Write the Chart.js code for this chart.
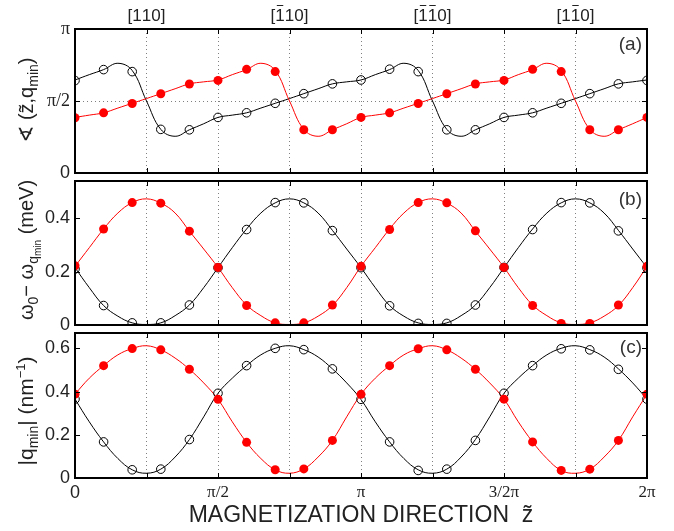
<!DOCTYPE html>
<html>
<head>
<meta charset="utf-8">
<script src="https://cdn.jsdelivr.net/npm/chart.js"></script>
<style>
body { margin: 0; background: #fff; }
#wrap { position: relative; width: 674px; height: 531px; }
canvas { position: absolute; left: 0; top: 0; }
</style>
</head>
<body>
<div id="wrap">
  <canvas id="pa" width="674" height="531"></canvas>
  <canvas id="pb" width="674" height="531"></canvas>
  <canvas id="pc" width="674" height="531"></canvas>
</div>
<script>
// magnetization direction, in units of pi
const dirs = [0, 0.1, 0.2, 0.3, 0.4, 0.5, 0.6, 0.7, 0.8, 0.9, 1, 1.1, 1.2, 1.3, 1.4, 1.5, 1.6, 1.7, 1.8, 1.9, 2];
const fine = [0, 0.05, 0.1, 0.15, 0.2, 0.25, 0.3, 0.35, 0.4, 0.45, 0.5, 0.55, 0.6, 0.65, 0.7, 0.75, 0.8, 0.85, 0.9, 0.95,
  1, 1.05, 1.1, 1.15, 1.2, 1.25, 1.3, 1.35, 1.4, 1.45, 1.5, 1.55, 1.6, 1.65, 1.7, 1.75, 1.8, 1.85, 1.9, 1.95, 2];

// (a) angle between z and q_min, in units of pi
const angleBlackPts = [0.642, 0.718, 0.704, 0.303, 0.30, 0.386, 0.418, 0.484, 0.551, 0.619, 0.646, 0.721, 0.704, 0.30, 0.30, 0.386, 0.418, 0.484, 0.551, 0.619, 0.643];
const angleRedPts = [0.384, 0.418, 0.483, 0.55, 0.618, 0.643, 0.72, 0.704, 0.30, 0.30, 0.386, 0.418, 0.483, 0.55, 0.618, 0.643, 0.72, 0.704, 0.30, 0.30, 0.386];
const angleBlackFit = [0.646, 0.683, 0.718, 0.762, 0.712, 0.50, 0.303, 0.255, 0.30, 0.342, 0.386, 0.402, 0.418, 0.451, 0.484, 0.517, 0.551, 0.585, 0.619, 0.633,
  0.646, 0.683, 0.718, 0.762, 0.712, 0.50, 0.303, 0.255, 0.30, 0.342, 0.386, 0.402, 0.418, 0.451, 0.484, 0.517, 0.551, 0.585, 0.619, 0.633, 0.646];
const angleRedFit = [0.386, 0.402, 0.418, 0.451, 0.484, 0.517, 0.551, 0.585, 0.619, 0.633, 0.646, 0.683, 0.718, 0.762, 0.712, 0.50, 0.303, 0.255, 0.30, 0.342,
  0.386, 0.402, 0.418, 0.451, 0.484, 0.517, 0.551, 0.585, 0.619, 0.633, 0.646, 0.683, 0.718, 0.762, 0.712, 0.50, 0.303, 0.255, 0.30, 0.342, 0.386];

// (b) omega_0 - omega_qmin (meV)
const energyBlackPts = [0.21, 0.073, 0.008, 0.008, 0.075, 0.215, 0.358, 0.459, 0.458, 0.354, 0.215, 0.072, 0.006, 0.006, 0.075, 0.216, 0.358, 0.459, 0.458, 0.353, 0.214];
const energyRedPts = [0.222, 0.36, 0.459, 0.457, 0.352, 0.216, 0.073, 0.008, 0.008, 0.075, 0.22, 0.358, 0.459, 0.458, 0.353, 0.216, 0.073, 0.006, 0.006, 0.075, 0.22];
const energyBlackFit = [0.215, 0.14, 0.073, 0.033, 0.008, 0.002, 0.008, 0.035, 0.075, 0.14, 0.215, 0.29, 0.36, 0.42, 0.458, 0.473, 0.458, 0.42, 0.355, 0.285,
  0.215, 0.14, 0.073, 0.033, 0.008, 0.002, 0.008, 0.035, 0.075, 0.14, 0.215, 0.29, 0.36, 0.42, 0.458, 0.473, 0.458, 0.42, 0.355, 0.285, 0.215];
const energyRedFit = [0.22, 0.29, 0.36, 0.42, 0.459, 0.473, 0.457, 0.42, 0.352, 0.285, 0.216, 0.14, 0.075, 0.035, 0.008, 0.002, 0.008, 0.033, 0.073, 0.14,
  0.22, 0.29, 0.36, 0.42, 0.459, 0.473, 0.457, 0.42, 0.352, 0.285, 0.216, 0.14, 0.075, 0.035, 0.008, 0.002, 0.008, 0.033, 0.073, 0.14, 0.22];

// (c) |q_min| (1/nm)
const qBlackPts = [0.365, 0.167, 0.038, 0.041, 0.178, 0.392, 0.52, 0.6, 0.594, 0.505, 0.364, 0.167, 0.035, 0.041, 0.174, 0.392, 0.52, 0.598, 0.593, 0.503, 0.365];
const qRedPts = [0.388, 0.52, 0.599, 0.593, 0.503, 0.364, 0.165, 0.038, 0.042, 0.174, 0.387, 0.52, 0.598, 0.593, 0.503, 0.365, 0.167, 0.035, 0.041, 0.174, 0.388];
const qBlackFit = [0.365, 0.26, 0.167, 0.09, 0.038, 0.022, 0.041, 0.097, 0.178, 0.283, 0.392, 0.462, 0.52, 0.57, 0.6, 0.612, 0.594, 0.56, 0.505, 0.44,
  0.363, 0.26, 0.167, 0.09, 0.038, 0.022, 0.041, 0.097, 0.178, 0.283, 0.392, 0.462, 0.52, 0.57, 0.6, 0.612, 0.594, 0.56, 0.505, 0.44, 0.365];
const qRedFit = [0.388, 0.462, 0.52, 0.57, 0.599, 0.612, 0.593, 0.555, 0.503, 0.44, 0.364, 0.26, 0.165, 0.09, 0.038, 0.022, 0.042, 0.097, 0.174, 0.283,
  0.387, 0.462, 0.52, 0.57, 0.598, 0.612, 0.593, 0.555, 0.503, 0.44, 0.365, 0.26, 0.167, 0.09, 0.035, 0.022, 0.041, 0.097, 0.174, 0.283, 0.388];

// ticks and labels
const xTickPos = [0, 0.25, 0.5, 0.75, 1, 1.25, 1.5, 1.75, 2];
const xLabelPos = [0, 0.5, 1, 1.5, 2];
const xTickLabels = ['0', 'π/2', 'π', '3/2π', '2π'];
const angleTickPos = [0, 0.5, 1];
const angleTickLabels = ['0', 'π/2', 'π'];
const energyTickPos = [0, 0.2, 0.4];
const qTickPos = [0, 0.2, 0.4, 0.6];
const dirLabelPos = [0.25, 0.75, 1.25, 1.75];
const dirLabelText = ['[110]', '[110]', '[110]', '[110]'];
const dirLabelBars = [[], [1], [1, 2], [2]];

const sans = '"Liberation Sans", "DejaVu Sans", Arial, sans-serif';
const serif = '"Liberation Serif", "DejaVu Serif", serif';
const ink = '#222';

function pts(xs, ys) {
  return xs.map((x, i) => ({ x: x, y: ys[i] }));
}

function drawRich(ctx, segs, cx, cy) {
  ctx.save();
  ctx.translate(cx, cy);
  ctx.rotate(-Math.PI / 2);
  ctx.fillStyle = ink;
  ctx.textAlign = 'left';
  ctx.textBaseline = 'alphabetic';
  let total = 0;
  segs.forEach(s => {
    ctx.font = s.size + 'px ' + sans;
    s.w = ctx.measureText(s.t).width;
    total += s.w;
  });
  let px = -total / 2;
  segs.forEach(s => {
    ctx.font = s.size + 'px ' + sans;
    ctx.fillText(s.t, px, s.dy || 0);
    px += s.w;
  });
  ctx.restore();
}

function decor(cfg) {
  return {
    id: 'decor',
    afterDraw(chart) {
      const { ctx, chartArea: a, scales: { x, y } } = chart;
      ctx.save();
      ctx.strokeStyle = '#000';
      ctx.lineWidth = 1;
      ctx.beginPath();
      xTickPos.forEach(v => {
        const px = Math.round(x.getPixelForValue(v)) + 0.5;
        ctx.moveTo(px, a.top); ctx.lineTo(px, a.top + 5);
        ctx.moveTo(px, a.bottom); ctx.lineTo(px, a.bottom - 5);
      });
      cfg.yTicks.forEach(v => {
        const py = Math.round(y.getPixelForValue(v)) + 0.5;
        ctx.moveTo(a.left, py); ctx.lineTo(a.left + 5, py);
        ctx.moveTo(a.right, py); ctx.lineTo(a.right - 5, py);
      });
      ctx.stroke();
      ctx.lineWidth = 2;
      ctx.strokeRect(Math.round(a.left), Math.round(a.top), Math.round(a.right - a.left), Math.round(a.bottom - a.top));

      // panel letter
      ctx.fillStyle = '#333';
      ctx.font = '19px ' + sans;
      ctx.textAlign = 'right';
      ctx.textBaseline = 'middle';
      ctx.fillText(cfg.letter, 642, cfg.letterY);

      // axis title
      drawRich(ctx, cfg.title, 33, cfg.titleY);

      // crystal directions above the top panel
      if (cfg.dirLabels) {
        ctx.font = '17px ' + sans;
        ctx.fillStyle = ink;
        ctx.strokeStyle = ink;
        ctx.lineWidth = 1;
        ctx.textAlign = 'left';
        dirLabelPos.forEach((v, i) => {
          const chars = dirLabelText[i].split('');
          const widths = chars.map(c => ctx.measureText(c).width);
          const total = widths.reduce((s, w) => s + w, 0);
          let px = x.getPixelForValue(v) - total / 2;
          chars.forEach((c, j) => {
            ctx.fillText(c, px, 16);
            if (dirLabelBars[i].includes(j)) {
              ctx.beginPath();
              ctx.moveTo(px + 1.5, 5.5);
              ctx.lineTo(px + widths[j] - 1.5, 5.5);
              ctx.stroke();
            }
            px += widths[j];
          });
        });
      }
      ctx.restore();
    }
  };
}

function makeChart(id, cfg) {
  return new Chart(document.getElementById(id), {
    type: 'scatter',
    data: {
      datasets: [
        { data: pts(dirs, cfg.redPts), showLine: false, pointRadius: 4.5, pointBackgroundColor: '#ff0000', pointBorderColor: '#ff0000', pointBorderWidth: 0, order: 0 },
        { data: pts(dirs, cfg.blackPts), showLine: false, pointRadius: 4.3, pointBackgroundColor: 'rgba(0,0,0,0)', pointBorderColor: '#000', pointBorderWidth: 1, order: 1 },
        { data: pts(fine, cfg.redFit), showLine: true, borderColor: '#ff0000', borderWidth: 1, pointRadius: 0, tension: 0.4, order: 2 },
        { data: pts(fine, cfg.blackFit), showLine: true, borderColor: '#000', borderWidth: 1, pointRadius: 0, tension: 0.4, order: 3 }
      ]
    },
    options: {
      responsive: false,
      animation: false,
      events: [],
      layout: { padding: { top: cfg.top, right: 27, left: 0, bottom: 0 } },
      plugins: { legend: { display: false }, tooltip: { enabled: false } },
      scales: {
        x: {
          type: 'linear', min: 0, max: 2,
          afterBuildTicks: s => { s.ticks = xTickPos.map(v => ({ value: v })); },
          afterFit: s => { s.height = 531 - cfg.bottom; s.paddingLeft = 0; s.paddingRight = 0; },
          ticks: {
            display: cfg.showX, autoSkip: false, maxRotation: 0, padding: 4, color: ink,
            font: c => (c.tick && c.tick.value === 0) ? { family: sans, size: 18 } : { family: serif, size: 17 },
            callback: v => { const i = xLabelPos.indexOf(v); return i < 0 ? '' : xTickLabels[i]; }
          },
          grid: { color: '#808080', drawTicks: false, lineWidth: 1 },
          border: { display: false, dash: [1, 3] },
          title: {
            display: cfg.showX, text: 'MAGNETIZATION DIRECTION  z\u0303', color: ink,
            font: { family: sans, size: 23 }, padding: { top: 2, bottom: 2 }
          }
        },
        y: {
          type: 'linear', min: 0, max: cfg.ymax,
          afterBuildTicks: s => { s.ticks = cfg.yTicks.map(v => ({ value: v })); },
          afterFit: s => { s.width = 75; s.paddingTop = 0; s.paddingBottom = 0; },
          ticks: { padding: 5, color: ink, font: cfg.yFont, callback: cfg.yLabel },
          grid: { drawTicks: false, lineWidth: 1, color: c => (cfg.yGrid && c.tick && c.tick.value === 0.5) ? '#808080' : 'rgba(0,0,0,0)' },
          border: { display: false, dash: [1, 3] }
        }
      }
    },
    plugins: [decor(cfg)]
  });
}

makeChart('pa', {
  top: 29, bottom: 173, ymax: 1, yTicks: angleTickPos, yGrid: true, showX: false,
  redPts: angleRedPts, blackPts: angleBlackPts, redFit: angleRedFit, blackFit: angleBlackFit,
  yLabel: v => { const i = angleTickPos.indexOf(v); return i < 0 ? '' : angleTickLabels[i]; },
  yFont: c => (c.tick && c.tick.value === 0) ? { family: sans, size: 18 } : { family: serif, size: 18 },
  letter: '(a)', letterY: 45, titleY: 100, dirLabels: true,
  title: [{ t: '\u2222 (z\u0303,q', size: 20 }, { t: 'min', size: 14, dy: 5 }, { t: ')', size: 20 }]
});

makeChart('pb', {
  top: 181, bottom: 325, ymax: 0.54, yTicks: energyTickPos, yGrid: false, showX: false,
  redPts: energyRedPts, blackPts: energyBlackPts, redFit: energyRedFit, blackFit: energyBlackFit,
  yLabel: v => v === 0 ? '0' : v.toFixed(1),
  yFont: { family: sans, size: 18 },
  letter: '(b)', letterY: 200, titleY: 250,
  title: [{ t: '\u03c9', size: 20 }, { t: '0', size: 14, dy: 5 }, { t: '\u2212 \u03c9', size: 20 },
    { t: 'q', size: 14, dy: 5 }, { t: 'min', size: 10, dy: 8 }, { t: ' (meV)', size: 20 }]
});

makeChart('pc', {
  top: 333, bottom: 478, ymax: 0.671, yTicks: qTickPos, yGrid: false, showX: true,
  redPts: qRedPts, blackPts: qBlackPts, redFit: qRedFit, blackFit: qBlackFit,
  yLabel: v => v === 0 ? '0' : v.toFixed(1),
  yFont: { family: sans, size: 18 },
  letter: '(c)', letterY: 348, titleY: 411,
  title: [{ t: '|q', size: 21 }, { t: 'min', size: 14, dy: 5 }, { t: '| (nm', size: 21 },
    { t: '\u22121', size: 13, dy: -8 }, { t: ')', size: 21 }]
});
</script>
</body>
</html>
